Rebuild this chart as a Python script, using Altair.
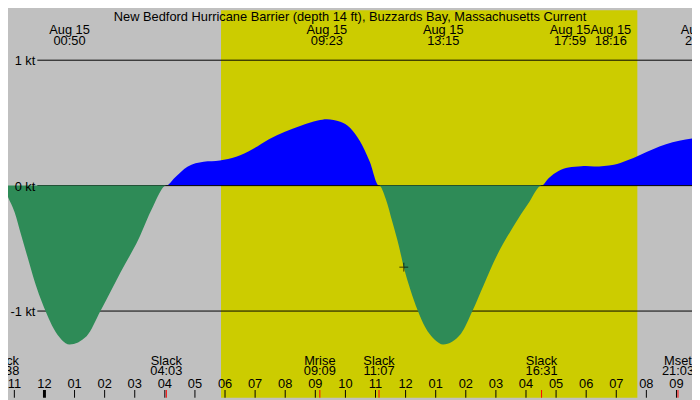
import altair as alt
import pandas as pd

# ---------------- data ----------------
TITLE = "New Bedford Hurricane Barrier (depth 14 ft), Buzzards Bay, Massachusetts Current"

# current speed (knots) at hours after midnight Aug 15
curve_hours = [-1.367, -1.211, -0.994, -0.779, -0.562, -0.344, -0.130, 0.088, 0.305, 0.575,
               0.833, 1.40, 1.86, 2.53, 3.12, 3.60, 4.05,
               4.32, 4.75, 5.29, 5.83, 6.37, 6.91, 7.46, 7.99, 8.54, 9.08, 9.383, 9.83, 10.16,
               10.48, 10.81, 11.117,
               11.344, 11.558, 11.776, 11.938, 12.156, 12.403, 12.643, 12.968, 13.25,
               13.84, 14.22, 14.60, 15.03, 15.57, 16.11, 16.517,
               16.76, 17.08, 17.41, 17.84, 17.983, 18.267, 18.92, 19.35, 19.79, 20.22, 20.65,
               21.09, 21.52]
curve_knots = [0, -0.09, -0.21, -0.39, -0.57, -0.75, -0.90, -1.03, -1.14, -1.23,
               -1.266, -1.2, -1.0, -0.69, -0.43, -0.17, 0,
               0.06, 0.15, 0.19, 0.20, 0.23, 0.29, 0.37, 0.43, 0.48, 0.52, 0.53, 0.51, 0.46,
               0.355, 0.19, 0,
               -0.108, -0.288, -0.481, -0.649, -0.829, -0.996, -1.125, -1.228, -1.266,
               -1.18, -1.0, -0.79, -0.56, -0.33, -0.13, 0,
               0.06, 0.116, 0.144, 0.154, 0.156, 0.153, 0.167, 0.2, 0.245, 0.29, 0.33,
               0.357, 0.376]

sunrise_hour = [5.867]   # 05:52
sunset_hour = [19.70]    # 19:42

kt_values = [1, 0, -1]
kt_labels = ["1 kt", "0 kt", "-1 kt"]

peak_hours = [0.833, 9.383, 13.25, 17.983, 18.267, 21.817]
peak_dates = ["Aug 15", "Aug 15", "Aug 15", "Aug 15", "Aug 15", "Aug 15"]
peak_times = ["00:50", "09:23", "13:15", "17:59", "18:16", "21:49"]

event_hours = [-1.367, 4.05, 9.15, 11.117, 16.517, 21.05]
event_names = ["Slack", "Slack", "Mrise", "Slack", "Slack", "Mset"]
event_times = ["22:38", "04:03", "09:09", "11:07", "16:31", "21:03"]

tick_hours = list(range(-1, 22))
tick_labels = ["11", "12", "01", "02", "03", "04", "05", "06", "07", "08", "09", "10", "11",
               "12", "01", "02", "03", "04", "05", "06", "07", "08", "09"]

now_hour = [11.94]
now_knots = [-0.65]

# ---------------- layout ----------------
W, H = 692, 392
SX, SY = W / 700.0, H / 400.0
FONT = "Liberation Sans"
FS = 13

xs = alt.Scale(domain=[-1.211, 21.516], nice=False, zero=False)
ys = alt.Scale(domain=[-1.691, 1.398], nice=False, zero=False)


def X(f):
    return alt.X(f, type="quantitative", scale=xs, axis=None)


def Y(f):
    return alt.Y(f, type="quantitative", scale=ys, axis=None)


curve_df = pd.DataFrame({"t": curve_hours, "v": curve_knots})
sun_df = pd.DataFrame({"rise": sunrise_hour, "set": sunset_hour})
kt_df = pd.DataFrame({"v": kt_values, "label": kt_labels})
peak_df = pd.DataFrame({"t": peak_hours, "d": peak_dates, "tm": peak_times,
                        "i": list(range(len(peak_hours)))})
event_df = pd.DataFrame({"t": event_hours, "name": event_names, "tm": event_times})
tick_df = pd.DataFrame({"t": tick_hours, "label": tick_labels})
now_df = pd.DataFrame({"t": now_hour, "v": now_knots})
title_df = pd.DataFrame({"title": [TITLE]})

layers = []

# daylight band
layers.append(alt.Chart(sun_df).mark_rect(color="#cccc00").encode(
    x=X("rise"), x2="set", y=alt.value(0), y2=alt.value(H)))

# flood (positive) area
layers.append(alt.Chart(curve_df).transform_calculate(
    pos="max(datum.v, 0)", base="0").mark_area(
    color="#0000ff", interpolate="monotone", clip=True).encode(
    x=X("t"), y=Y("pos"), y2="base"))

# knot reference lines
layers.append(alt.Chart(kt_df).mark_rule(color="black", strokeWidth=1).encode(
    y=Y("v"), x=alt.value(30 * SX), x2=alt.value(W)))

# ebb (negative) area
layers.append(alt.Chart(curve_df).transform_calculate(
    neg="min(datum.v, 0)", base="0").mark_area(
    color="#2e8b57", interpolate="monotone", clip=True).encode(
    x=X("t"), y=Y("neg"), y2="base"))

# knot labels
layers.append(alt.Chart(kt_df).mark_text(
    align="right", baseline="alphabetic", dy=5, font=FONT, fontSize=FS, color="black").encode(
    x=alt.value(28 * SX), y=Y("v"), text="label:N"))

# current time marker
layers.append(alt.Chart(now_df).mark_point(
    shape="M-1,0L1,0M0,-1L0,1", size=81, filled=False, color="black", strokeWidth=1).encode(
    x=X("t"), y=Y("v")))

# top labels (max / min current), two lines each
for cond, dx in (("datum.i != 3 && datum.i != 4", 0), ("datum.i == 3", -16), ("datum.i == 4", 17)):
    layers.append(alt.Chart(peak_df).transform_filter(cond).transform_calculate(
        lbl="datum.d + '\\n' + datum.tm").mark_text(
        align="center", baseline="alphabetic", dx=dx * SX, lineBreak="\n",
        lineHeight=12 * SY, font=FONT, fontSize=FS, color="black").encode(
        x=X("t"), y=alt.value(24 * SY), text="lbl:N"))

# bottom event labels, two lines each
layers.append(alt.Chart(event_df).transform_calculate(
    lbl="datum.name + '\\n' + datum.tm").mark_text(
    align="center", baseline="alphabetic", lineBreak="\n", lineHeight=11 * SY,
    font=FONT, fontSize=FS, color="black").encode(
    x=X("t"), y=alt.value(366 * SY), text="lbl:N"))

# hour labels
layers.append(alt.Chart(tick_df).mark_text(
    align="center", baseline="alphabetic", font=FONT, fontSize=FS, color="black").encode(
    x=X("t"), y=alt.value(390 * SY), text="label:N"))

# hour ticks
layers.append(alt.Chart(tick_df).transform_filter("datum.t != 0").mark_rule(
    color="black", strokeWidth=1).encode(
    x=X("t"), y=alt.value(392 * SY), y2=alt.value(H)))
layers.append(alt.Chart(tick_df).transform_filter("datum.t == 0").mark_rule(
    color="black", strokeWidth=3).encode(
    x=X("t"), y=alt.value(392 * SY), y2=alt.value(H)))

# event ticks (red)
layers.append(alt.Chart(event_df).mark_rule(color="#ff0000", strokeWidth=1).encode(
    x=X("t"), y=alt.value(392 * SY), y2=alt.value(H)))

# title
layers.append(alt.Chart(title_df).mark_text(
    align="center", baseline="alphabetic", font=FONT, fontSize=FS, color="black").encode(
    x=alt.value(W / 2), y=alt.value(11 * SY), text="title:N"))

chart = alt.layer(*layers).properties(
    width=W, height=H, padding=0,
    autosize=alt.AutoSizeParams(type="none"),
).configure(background="#c0c0c0").configure_view(strokeWidth=0)

chart.save("out.html", embed_options={"renderer": "svg", "actions": False})
